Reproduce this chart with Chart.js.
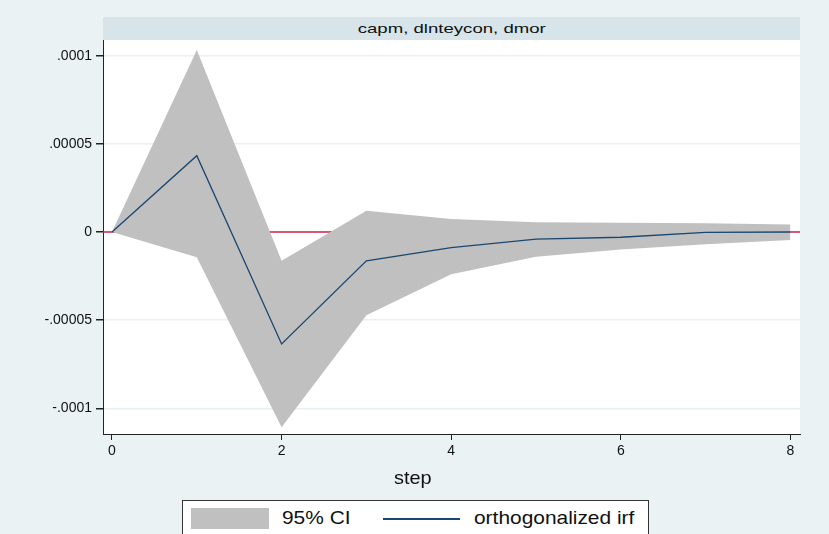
<!DOCTYPE html>
<html>
<head>
<meta charset="utf-8">
<script src="https://cdn.jsdelivr.net/npm/chart.js@4.4.1/dist/chart.umd.min.js"></script>
<style>
  html, body { margin: 0; padding: 0; background: #EAF2F3; }
  #wrap { position: relative; width: 829px; height: 534px; overflow: hidden; background: #EAF2F3;
          font-family: 'Liberation Sans', Arial, sans-serif; }
  #chart { position: absolute; left: 0; top: 0; }
  #strip { position: absolute; left: 103px; top: 17px; width: 697px; height: 23px; background: #D7E4EA;
           text-align: center; line-height: 23px; font-size: 13px; color: #111; }
  #strip span { display: inline-block; transform: scaleX(1.43); }
  #xtitle { position: absolute; left: 394px; top: 468px; font-size: 19px; line-height: 19px; color: #111;
            white-space: nowrap; transform: scaleX(1.05); transform-origin: left center; }
  #legend { position: absolute; left: 182px; top: 500px; width: 465px; height: 44px;
            border: 1px solid #333; background: #fff; }
  #legend .sw { position: absolute; left: 8px; top: 7px; width: 78px; height: 21px; background: #C0C0C0; }
  #legend .ln { position: absolute; left: 200px; top: 17px; width: 77px; height: 2px; background: #1A476F; }
  #legend .tx { position: absolute; top: 7px; font-size: 19px; line-height: 19px; color: #111;
                white-space: nowrap; transform: scaleX(1.1); transform-origin: left center; }
</style>
</head>
<body>
<div id="wrap">
  <canvas id="chart" width="829" height="534"></canvas>
  <div id="strip"><span>capm, dlnteycon, dmor</span></div>
  <div id="xtitle">step</div>
  <div id="legend">
    <div class="sw"></div>
    <div class="tx" style="left:99px">95% CI</div>
    <div class="ln"></div>
    <div class="tx" style="left:291px">orthogonalized irf</div>
  </div>
</div>
<script>
// Impulse-response: capm -> dlnteycon -> dmor, steps 0..8
const steps = [0, 1, 2, 3, 4, 5, 6, 7, 8];
const irf = [0, 4.33e-5, -6.35e-5, -1.64e-5, -0.89e-5, -0.41e-5, -0.30e-5, -0.02e-5, 0];
const ciUpper = [0, 1.032e-4, -0.163e-4, 0.121e-4, 0.074e-4, 0.055e-4, 0.053e-4, 0.049e-4, 0.042e-4];
const ciLower = [0, -0.144e-4, -1.108e-4, -0.472e-4, -0.24e-4, -0.14e-4, -0.10e-4, -0.070e-4, -0.045e-4];
const xTicks = [0, 2, 4, 6, 8];
const yTicks = [-1e-4, -5e-5, 0, 5e-5, 1e-4];
const yTickLabels = ['-.0001', '-.00005', '0', '.00005', '.0001'];

const FONT = "'Liberation Sans', Arial, sans-serif";
const pts = arr => steps.map((s, i) => ({ x: s, y: arr[i] }));

// white plot region
const plotBg = {
  id: 'plotBg',
  beforeDraw(chart) {
    const { ctx, chartArea: a } = chart;
    ctx.save();
    ctx.fillStyle = '#ffffff';
    ctx.fillRect(a.left, a.top, a.right - a.left, a.bottom - a.top);
    ctx.restore();
  }
};

// red reference line at zero, underneath the confidence band
const zeroLine = {
  id: 'zeroLine',
  beforeDatasetsDraw(chart) {
    const { ctx, chartArea: a, scales } = chart;
    const y = scales.y.getPixelForValue(0);
    ctx.save();
    ctx.strokeStyle = '#D0234A';
    ctx.lineWidth = 1.5;
    ctx.beginPath();
    ctx.moveTo(a.left, y);
    ctx.lineTo(a.right, y);
    ctx.stroke();
    ctx.restore();
  }
};

new Chart(document.getElementById('chart'), {
  type: 'line',
  data: {
    datasets: [
      { label: 'orthogonalized irf', data: pts(irf), borderColor: '#1A476F', borderWidth: 1.3,
        pointRadius: 0, fill: false, tension: 0 },
      { label: '95% CI upper', data: pts(ciUpper), borderColor: 'rgba(0,0,0,0)', borderWidth: 0,
        backgroundColor: '#C0C0C0', pointRadius: 0, fill: '+1', tension: 0 },
      { label: '95% CI lower', data: pts(ciLower), borderColor: 'rgba(0,0,0,0)', borderWidth: 0,
        pointRadius: 0, fill: false, tension: 0 }
    ]
  },
  options: {
    responsive: false,
    animation: false,
    devicePixelRatio: 1,
    events: [],
    layout: { padding: { top: 40, right: 29, left: 0, bottom: 0 } },
    plugins: { legend: { display: false }, tooltip: { enabled: false } },
    scales: {
      x: {
        type: 'linear',
        min: -0.106,
        max: 8.113,
        afterBuildTicks: s => { s.ticks = xTicks.map(v => ({ value: v })); },
        afterFit: s => { s.height = 100; },
        ticks: { font: { family: FONT, size: 14 }, color: '#111', padding: 3,
                 maxRotation: 0, autoSkip: false, callback: v => String(v) },
        grid: { drawOnChartArea: false, tickLength: 6, tickColor: '#222', lineWidth: 1 },
        border: { display: true, color: '#222', width: 1 }
      },
      y: {
        type: 'linear',
        min: -1.146e-4,
        max: 1.089e-4,
        afterBuildTicks: s => { s.ticks = yTicks.map(v => ({ value: v })); },
        afterFit: s => { s.width = 103; },
        ticks: { font: { family: FONT, size: 14 }, color: '#111', padding: 4,
                 callback: (v, i) => yTickLabels[i] },
        grid: { color: '#E8F0F2', lineWidth: 1.5, tickColor: '#222', tickLength: 7 },
        border: { display: true, color: '#222', width: 1 }
      }
    }
  },
  plugins: [plotBg, zeroLine]
});
</script>
</body>
</html>
